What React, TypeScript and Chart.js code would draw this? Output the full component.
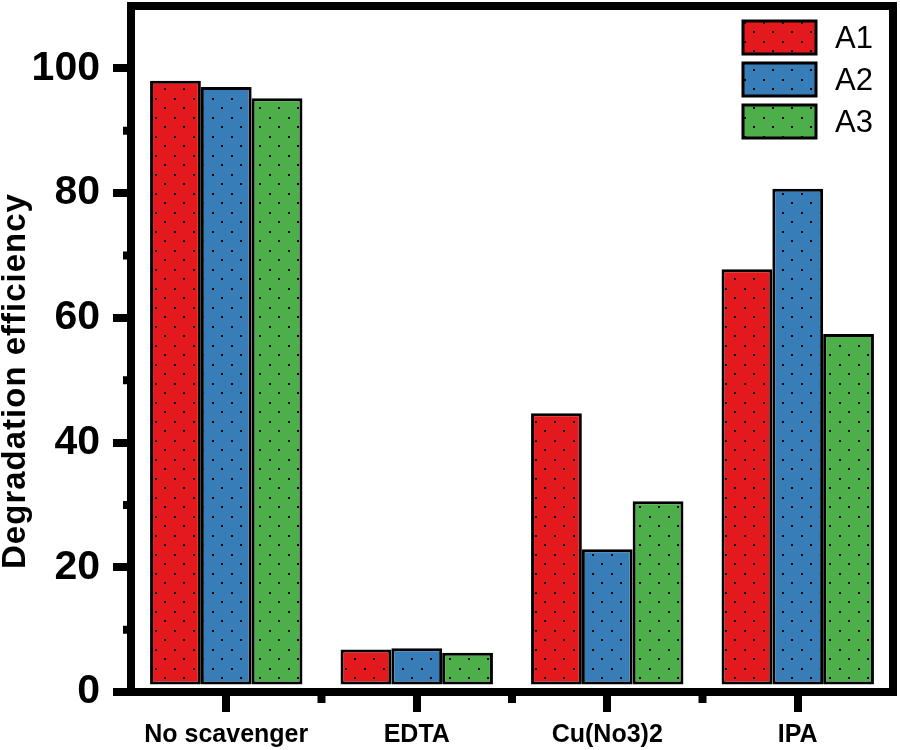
import { useEffect, useRef } from 'react';
import { Chart, registerables, Plugin } from 'chart.js';

Chart.register(...registerables);

const categories = ['No scavenger', 'EDTA', 'Cu(No3)2', 'IPA'];
const seriesNames = ['A1', 'A2', 'A3'];
const a1Values = [98, 6.8, 44.7, 67.8];
const a2Values = [97, 7.0, 22.9, 80.7];
const a3Values = [95.2, 6.3, 30.6, 57.4];
const minorYTicks = [10, 30, 50, 70, 90];
const yTitle = 'Degradation efficiency';

const FONT = '"Liberation Sans", Arial, sans-serif';
const colors = ['#e3191e', '#377eb8', '#4daf4a'];

function dotPattern(color: string): CanvasPattern | string {
  const tile = document.createElement('canvas');
  tile.width = 19;
  tile.height = 19;
  const ctx = tile.getContext('2d');
  if (!ctx) return color;
  ctx.fillStyle = color;
  ctx.fillRect(0, 0, 19, 19);
  ctx.fillStyle = '#000';
  ctx.fillRect(3, 3, 2, 2);
  ctx.fillRect(12, 12, 2, 2);
  return ctx.createPattern(tile, 'repeat') ?? color;
}

// frame, minor ticks, axis title and the legend inside the plot
const framePlugin: Plugin<'bar'> = {
  id: 'frame',
  afterDraw(chart) {
    const { ctx, chartArea } = chart;
    const { left, right, top, bottom } = chartArea;
    const x = chart.scales.x;
    const y = chart.scales.y;
    ctx.save();
    ctx.strokeStyle = '#000';
    ctx.lineWidth = 8;
    ctx.strokeRect(left, top, right - left, bottom - top);

    ctx.beginPath();
    minorYTicks.forEach((v) => {
      const py = y.getPixelForValue(v);
      ctx.moveTo(left, py);
      ctx.lineTo(left - 8, py);
    });
    for (let i = 0; i < categories.length - 1; i++) {
      const px = (x.getPixelForValue(i) + x.getPixelForValue(i + 1)) / 2;
      ctx.moveTo(px, bottom);
      ctx.lineTo(px, bottom + 11);
    }
    ctx.stroke();

    // y title sits a bit below the middle of the axis in the original
    ctx.save();
    ctx.translate(left - 106, (top + bottom) / 2 + 32);
    ctx.rotate(-Math.PI / 2);
    ctx.fillStyle = '#000';
    ctx.font = `bold 33px ${FONT}`;
    (ctx as CanvasRenderingContext2D & { letterSpacing: string }).letterSpacing = '1px';
    ctx.textAlign = 'center';
    ctx.textBaseline = 'alphabetic';
    ctx.fillText(yTitle, 0, 0);
    ctx.restore();

    const lx = right - 150;
    chart.data.datasets.forEach((ds, i) => {
      const ly = top + 15 + i * 42;
      ctx.fillStyle = ds.backgroundColor as CanvasPattern;
      ctx.fillRect(lx, ly, 73, 33);
      ctx.lineWidth = 3;
      ctx.strokeRect(lx, ly, 73, 33);
      ctx.fillStyle = '#000';
      ctx.font = `31px ${FONT}`;
      ctx.textBaseline = 'middle';
      ctx.textAlign = 'left';
      ctx.fillText(ds.label ?? '', lx + 92, ly + 18);
    });
    ctx.restore();
  },
};

function DegradationChart() {
  const canvasRef = useRef<HTMLCanvasElement | null>(null);

  useEffect(() => {
    const canvas = canvasRef.current;
    if (!canvas) return undefined;
    const series = [a1Values, a2Values, a3Values];
    const chart = new Chart(canvas, {
      type: 'bar',
      data: {
        labels: categories,
        datasets: series.map((data, i) => ({
          label: seriesNames[i],
          data,
          base: 1.2,
          backgroundColor: dotPattern(colors[i]),
          borderColor: '#000',
          borderWidth: 3,
          borderSkipped: false,
          barPercentage: 1,
          categoryPercentage: 0.8,
        })),
      },
      options: {
        responsive: false,
        animation: false,
        layout: { autoPadding: false, padding: { top: 6, right: 7, left: 0, bottom: 0 } },
        plugins: {
          legend: { display: false },
          tooltip: { enabled: false },
        },
        scales: {
          x: {
            offset: true,
            border: { display: false },
            grid: {
              offset: false,
              drawOnChartArea: false,
              tickLength: 20,
              lineWidth: 8,
              color: '#000',
            },
            ticks: {
              color: '#000',
              padding: 8,
              font: { family: FONT, size: 25, weight: 'bold' },
            },
            afterFit: (scale) => {
              scale.height = 58;
              scale.paddingLeft = 0;
              scale.paddingRight = 0;
            },
          },
          y: {
            min: 0,
            max: 110,
            border: { display: false },
            grid: {
              drawOnChartArea: false,
              tickLength: 18,
              lineWidth: 8,
              color: '#000',
            },
            ticks: {
              stepSize: 20,
              includeBounds: false,
              color: '#000',
              padding: 13,
              font: { family: FONT, size: 41, weight: 'bold' },
            },
            afterFit: (scale) => {
              scale.width = 131;
              scale.paddingTop = 0;
              scale.paddingBottom = 0;
            },
          },
        },
      },
      plugins: [framePlugin],
    });
    return () => {
      chart.destroy();
    };
  }, []);

  return <canvas ref={canvasRef} width={900} height={750} />;
}

export default function App() {
  return (
    <div style={{ position: 'fixed', left: 0, top: 0, width: 900, height: 750, background: '#fff' }}>
      <DegradationChart />
    </div>
  );
}
